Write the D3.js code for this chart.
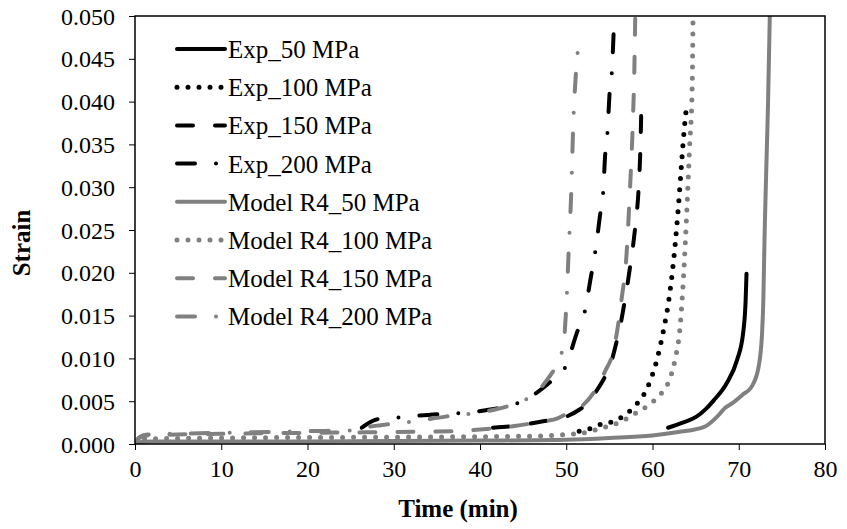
<!DOCTYPE html>
<html>
<head>
<meta charset="utf-8">
<script src="https://cdn.jsdelivr.net/npm/d3@7"></script>
<style>
  html, body { margin: 0; padding: 0; background: #fff; }
  svg text { font-family: "Liberation Serif", "Times New Roman", serif; fill: #000; }
</style>
</head>
<body>
<div id="chart"></div>
<script>
// series names, in legend order
var seriesNames = ["Exp_50 MPa", "Exp_100 MPa", "Exp_150 MPa", "Exp_200 MPa",
                   "Model R4_50 MPa", "Model R4_100 MPa", "Model R4_150 MPa", "Model R4_200 MPa"];

var xTicks = [0, 10, 20, 30, 40, 50, 60, 70, 80];
var yTicks = [0, 0.005, 0.010, 0.015, 0.020, 0.025, 0.030, 0.035, 0.040, 0.045, 0.050];

// [time (min), strain]
var exp50 = [[61.8,0.0019],[63.5,0.0025],[65.1,0.0032],[66.2,0.0041],[67.1,0.0051],[68.6,0.0071],
             [69.8,0.0098],[70.5,0.0129],[70.8,0.0168],[70.9,0.0199]];
var exp100 = [[51.5,0.0015],[52.5,0.0017],[53.7,0.0022],[55,0.0025],[56.2,0.003],[57.2,0.0037],
              [58.1,0.0046],[58.9,0.0056],[59.5,0.0068],[60.5,0.0098],[61.2,0.0129],[62.0,0.0176],
              [62.6,0.023],[63.0,0.0277],[63.4,0.0332],[63.7,0.037],[64.0,0.0398]];
var exp150 = [[41.5,0.0019],[44,0.0021],[47,0.0026],[50,0.0032],[51.5,0.004],[52.5,0.0048],
              [53.5,0.0062],[54.3,0.0075],[55.2,0.0095],[55.8,0.0118],[56.3,0.014],[56.8,0.0168],
              [57.4,0.0207],[58.0,0.0254],[58.4,0.030],[58.6,0.0347],[58.7,0.039]];
var exp200 = [[26.3,0.0019],[27.2,0.0025],[28.1,0.0029],[30.5,0.0031],[34,0.0034],[37.5,0.0036],
              [41,0.004],[44.4,0.0048],[46.6,0.006],[48.1,0.0072],[49.9,0.009],[51.2,0.0129],
              [52.2,0.0157],[52.8,0.0192],[53.4,0.0227],[53.9,0.0266],[54.3,0.0297],[54.5,0.0336],
              [54.8,0.0367],[55.0,0.0406],[55.3,0.0437],[55.5,0.0482]];
var model50 = [[0,0],[0.5,0.0002],[2,0.0003],[20,0.0003],[40,0.0004],[50,0.0005],[55,0.0007],
               [60,0.001],[63,0.0014],[66,0.002],[67.5,0.0032],[68.4,0.0042],[69.3,0.0048],
               [70.5,0.0058],[71.5,0.0067],[72.3,0.009],[72.7,0.0129],[72.85,0.0168],[73.0,0.0246],
               [73.2,0.0324],[73.4,0.040],[73.6,0.05]];
var model100 = [[0,0],[0.5,0.0004],[1.5,0.0006],[10,0.0007],[30,0.0008],[45,0.0009],[50,0.0011],
                [52.5,0.0014],[53.9,0.0018],[55.3,0.0022],[56.5,0.0027],[57.7,0.0034],[58.9,0.0041],
                [60,0.0049],[61,0.0059],[61.8,0.0071],[62.6,0.0098],[63.2,0.0137],[63.6,0.0196],
                [64.0,0.0277],[64.3,0.0347],[64.6,0.0417],[64.7,0.05]];
var model150 = [[0,0],[0.5,0.0007],[1.5,0.001],[10,0.0012],[20,0.0013],[30,0.0014],[37,0.0015],
                [40,0.0017],[44,0.0021],[47,0.0026],[49,0.003],[50.5,0.0038],[52,0.0046],
                [53.5,0.0065],[54.5,0.0085],[55.5,0.011],[56.4,0.0168],[57,0.0223],[57.4,0.030],
                [57.7,0.037],[57.9,0.044],[58.0,0.05]];
var model200 = [[0,0],[0.5,0.0008],[1.5,0.0011],[10,0.0013],[20,0.0015],[25.5,0.0016],[27,0.002],
                [28.5,0.0022],[32,0.0026],[36,0.0032],[40,0.0037],[44,0.0047],[46.5,0.006],
                [48,0.0078],[49,0.0095],[49.7,0.0118],[50,0.016],[50.3,0.023],[50.6,0.03],
                [50.8,0.037],[51.1,0.043],[51.6,0.0478]];

var seriesData = [exp50, exp100, exp150, exp200, model50, model100, model150, model200];

// line styles: black for experiments, grey for model
var dashes = ["none", "0,11", "16,22", "18,21,0,21"];
var styles = seriesNames.map(function(n, i) {
    return { color: i < 4 ? "#000" : "#808080", dash: dashes[i % 4], width: i % 4 === 1 ? 5 : 4 };
});

function init() {
    var w = 847;
    var h = 529;
    var left = 135, right = 825, top = 16, bottom = 444;

    var svg = d3.select("#chart").append("svg")
        .attr("width", w)
        .attr("height", h);

    var xScale = d3.scaleLinear().domain([0, 80]).range([left, right]);
    var yScale = d3.scaleLinear().domain([0, 0.05]).range([bottom, top]);

    svg.append("clipPath").attr("id", "plotClip")
        .append("rect")
        .attr("x", left).attr("y", top)
        .attr("width", right - left).attr("height", bottom - top);

    var line = d3.line()
        .x(d => xScale(d[0]))
        .y(d => yScale(d[1]))
        .curve(d3.curveMonotoneX);

    var plot = svg.append("g").attr("clip-path", "url(#plotClip)");
    seriesData.forEach(function(data, i) {
        plot.append("path")
            .datum(data)
            .attr("d", line)
            .attr("fill", "none")
            .attr("stroke", styles[i].color)
            .attr("stroke-width", styles[i].width)
            .attr("stroke-linecap", "round")
            .attr("stroke-linejoin", "round")
            .attr("stroke-dasharray", styles[i].dash);
    });

    //Axes
    var xAxis = svg.append("g")
        .attr("transform", `translate(0,${bottom})`)
        .call(d3.axisBottom(xScale).tickValues(xTicks).tickSize(6).tickPadding(10).tickFormat(d3.format("d")));
    var yAxis = svg.append("g")
        .attr("transform", `translate(${left},0)`)
        .call(d3.axisLeft(yScale).tickValues(yTicks).tickSize(6).tickPadding(14).tickFormat(d3.format(".3f")));
    [xAxis, yAxis].forEach(function(a) {
        a.select(".domain").remove();
        a.selectAll(".tick line").attr("stroke", "#000").attr("stroke-width", 1);
        a.selectAll(".tick text").style("font-size", "24px");
    });
    xAxis.selectAll(".tick text").attr("dy", "0.71em");
    yAxis.selectAll(".tick text").attr("dy", "0.34em");

    // plot frame
    svg.append("rect")
        .attr("x", left).attr("y", top)
        .attr("width", right - left).attr("height", bottom - top)
        .attr("fill", "none")
        .attr("stroke", "#000")
        .attr("stroke-width", 1.5);

    svg.append("text")
        .attr("x", 458).attr("y", 517)
        .style("text-anchor", "middle")
        .style("font-size", "25px")
        .style("font-weight", "bold")
        .text("Time (min)");

    svg.append("text")
        .attr("transform", "translate(30,243) rotate(-90)")
        .style("text-anchor", "middle")
        .style("font-size", "25px")
        .style("font-weight", "bold")
        .text("Strain");

    //Legend
    var legend = svg.append("g");
    seriesNames.forEach(function(name, i) {
        var y = 49 + i * 38.2;
        legend.append("line")
            .attr("x1", 177).attr("x2", 225)
            .attr("y1", y).attr("y2", y)
            .attr("stroke", styles[i].color)
            .attr("stroke-width", styles[i].width)
            .attr("stroke-linecap", "round")
            .attr("stroke-dasharray", styles[i].dash);
        legend.append("text")
            .attr("x", 228).attr("y", y + 9)
            .style("font-size", "25px")
            .text(name);
    });
}

window.onload = init;
</script>
</body>
</html>
